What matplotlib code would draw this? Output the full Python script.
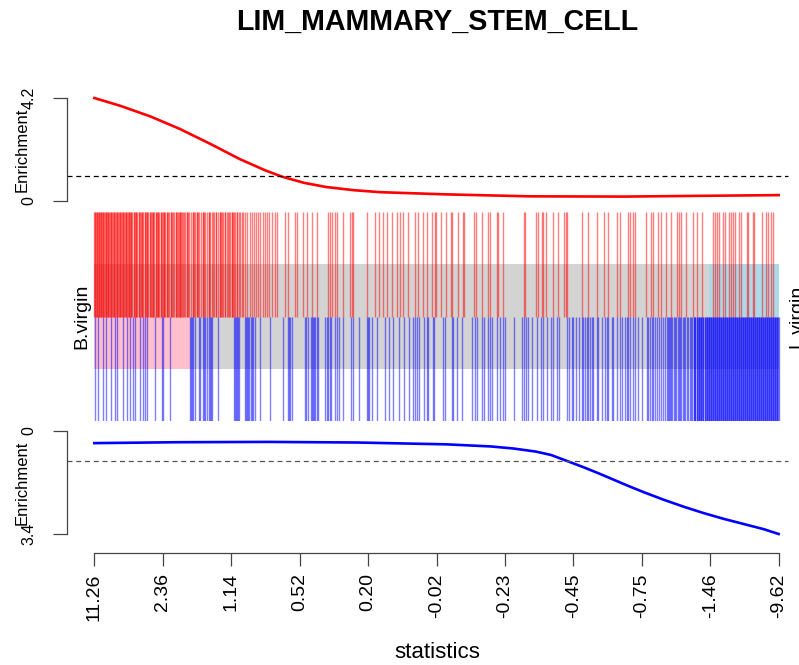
import numpy as np
import matplotlib
matplotlib.use("Agg")
import matplotlib.pyplot as plt
from matplotlib.patches import Rectangle

plt.rcParams['font.family'] = ['Liberation Sans', 'DejaVu Sans']

title = "LIM_MAMMARY_STEM_CELL"
n_rank = 685
tick_labels = ["11.26", "2.36", "1.14", "0.52", "0.20", "-0.02",
               "-0.23", "-0.45", "-0.75", "-1.46", "-9.62"]
up_label = "B.virgin"
down_label = "L.virgin"

# ranks of the genes of each set (0 = largest statistic)
red_ranks = [0, 0.5, 1, 2, 2.5, 3, 4, 4.5, 5, 6, 6.5, 7, 8, 8.5, 9, 10, 11, 11.5, 12, 13,
             13.5, 14, 15, 16, 16.5, 17, 18, 19, 19.5, 20, 21, 22, 22.5, 23, 24, 25, 25.5,
             26, 27, 28, 28.5, 29, 30, 31, 31.5, 32, 33,
             34, 34.5, 35, 36, 36.5, 37, 38, 39.5, 40, 41, 41.5, 42, 43, 44.5, 45, 46, 47,
             47.5, 48, 49, 50.5, 51, 52, 52.5, 53, 54, 55.5, 56, 57, 58, 58.5, 59, 60,
             61.5, 62, 63, 63.5, 64, 65, 66.5, 67, 68, 69, 69.5, 70, 71, 72.5, 73, 74, 75,
             76.5, 77, 78, 79, 80, 81.5, 82, 83, 84, 85, 85.5, 86, 87, 88, 89, 90, 91,
             92.5, 93, 94, 95, 97, 98.5, 99, 100, 101, 102.5, 103, 104, 105, 107, 108.5,
             109, 110, 111, 113, 114.5, 115, 116, 118, 119, 120, 121.5, 122, 124, 125.5,
             126, 127, 128, 129, 130.5, 131, 133, 134, 135, 136, 137.5, 138, 139, 140, 141,
             142.5, 143, 145, 146, 148, 149, 151, 153, 156, 158, 160, 162, 164, 166, 169,
             171, 173, 175, 178, 181, 183, 191, 194, 201, 203, 209, 213, 218, 223, 234,
             236, 238, 241, 243, 249, 256, 258, 259, 273, 281, 285, 289, 293, 298, 303,
             306, 309, 314, 321, 324, 329, 333, 338, 341, 342, 347, 352, 357, 358, 364,
             369, 370, 380, 382, 388, 394, 396, 403, 404, 409, 430, 431, 442, 444, 448,
             449, 452, 459, 464, 470, 472, 473, 488, 494, 503, 510, 514, 523, 526, 534,
             536, 539, 541, 552, 557, 559, 564, 567, 572, 577, 583, 585, 587, 592, 599,
             603, 608, 619, 621, 623, 625, 629, 631, 635, 637, 639, 641, 645, 647, 653,
             654, 659, 660, 668, 672, 674, 677, 679]

blue_ranks = [1, 4, 9, 12, 17, 21, 23, 29, 33, 36, 39, 41, 46, 49, 51, 53, 61, 68, 69, 76,
              96, 97, 98, 99, 101, 105, 106, 109, 110, 111, 113, 115, 116, 117, 118, 124,
              140, 141, 142, 143, 144, 145, 151, 152, 153, 154, 155, 157, 158, 159, 161,
              166, 176, 189, 194, 195, 196, 198, 211, 212, 214, 217, 218, 219, 220, 221,
              223, 224, 231, 233, 234, 236, 237, 241, 243, 245, 249, 257, 259, 265, 273,
              274, 275, 278, 283, 291, 295, 299, 305, 310, 315, 319, 321, 323, 325, 330,
              333, 334, 339, 340, 349, 351, 358, 359, 363, 368, 378, 381, 383, 388, 390,
              394, 396, 398, 403, 406, 409, 411, 420, 428, 430, 432, 434, 438, 443, 447,
              449, 453, 457, 459, 463, 465, 473, 475, 478, 479, 482, 485, 488, 489, 491,
              493, 494, 496, 498, 499, 503, 504, 508, 511, 513, 514, 518, 519, 523, 526,
              528, 531, 533, 534, 536, 539, 541, 544, 548, 553, 554, 556, 558, 559, 561,
              563, 565, 567, 569, 571, 573, 574, 575, 576, 577, 578, 580, 581, 582, 584,
              585, 586, 587, 589, 590, 591, 593, 594, 596, 597, 598,
              600, 600.5, 601, 601.5, 603, 603.5, 604, 605, 605.5, 606, 607, 607.5, 608,
              609, 609.5, 611, 611.5, 612, 613, 613.5, 614, 615, 615.5, 616, 617, 617.5,
              618, 619, 619.5, 620, 621, 621.5, 622, 623, 623.5, 624, 625, 625.5, 626, 627,
              627.5, 628, 629, 629.5, 630, 631, 631.5, 632, 633, 633.5, 634, 635, 635.5,
              636, 637, 637.5, 638, 639, 639.5, 640, 641, 641.5, 642, 643, 643.5, 644, 645,
              645.5, 646, 647, 647.5, 648, 649, 649.5, 650, 651, 651.5, 652, 653, 653.5,
              654, 655, 655.5, 656, 657, 657.5, 658, 659, 659.5, 660, 661, 661.5, 662, 663,
              663.5, 664, 665, 665.5, 666, 667, 667.5, 668, 669, 669.5, 670, 671, 671.5,
              672, 673, 673.5, 674, 675, 675.5, 676, 677, 677.5, 678, 679, 679.5, 680, 681,
              681.5, 682, 683, 683.5, 684, 685]

# running enrichment curves
red_curve_rank = [0, 26, 56, 86, 116, 146, 171, 188, 210, 232, 260, 286, 352, 436, 531,
                  606, 685]
red_curve_enr = [4.2, 3.88, 3.45, 2.93, 2.33, 1.70, 1.25, 0.99, 0.74, 0.57, 0.44, 0.36,
                 0.27, 0.19, 0.18, 0.21, 0.24]
blue_curve_rank = [0, 85, 174, 263, 352, 397, 420, 442, 457, 474, 490, 505, 520, 535,
                   550, 570, 590, 610, 630, 650, 670, 685]
blue_curve_enr = [0.40, 0.37, 0.36, 0.38, 0.44, 0.51, 0.58, 0.68, 0.79, 1.00, 1.20, 1.40,
                  1.61, 1.82, 2.02, 2.27, 2.50, 2.71, 2.90, 3.07, 3.24, 3.40]

up_max, down_max = 4.2, 3.4
pink_end = 96
lightblue_start = 615

W, H = 799, 665
fig = plt.figure(figsize=(W / 100, H / 100), dpi=100)


def box(x0, y0, x1, y1):
    return [x0 / W, 1 - y1 / H, (x1 - x0) / W, (y1 - y0) / H]


pad = 0.04 * n_rank
xlim = (-pad, n_rank + pad)
axcol = "#444444"

# barcode panel
axb = fig.add_axes(box(67, 212, 806, 421))
axb.set_xlim(xlim)
axb.set_ylim(0, 2)
axb.axis("off")
axb.add_patch(Rectangle((-0.5, 0.5), n_rank + 1, 1, color="lightgray", lw=0))
axb.add_patch(Rectangle((-0.5, 0.5), pink_end + 0.5, 0.5, color="pink", lw=0))
axb.add_patch(Rectangle((lightblue_start, 1), n_rank + 0.5 - lightblue_start, 0.5,
                        color="lightblue", lw=0))
axb.vlines(red_ranks, 1, 2, color=(1, 0, 0, 0.5), lw=1.0)
axb.vlines(blue_ranks, 0, 1, color=(0, 0, 1, 0.5), lw=1.0)

# top enrichment
axt = fig.add_axes(box(67, 98, 806, 201))
axt.set_xlim(xlim)
axt.set_ylim(0, up_max)
axt.plot(red_curve_rank, red_curve_enr, color="red", lw=1.9, clip_on=False)
axt.axhline(1, xmax=0.975, color="black", lw=0.9, ls=(0, (4, 3)), clip_on=False)

# bottom enrichment
axd = fig.add_axes(box(67, 431, 806, 534))
axd.set_xlim(xlim)
axd.set_ylim(down_max, 0)
axd.plot(blue_curve_rank, blue_curve_enr, color="blue", lw=1.9, clip_on=False)
axd.axhline(1, xmax=0.975, color="#555555", lw=0.9, ls=(0, (4, 3)), clip_on=False)

for ax, lo, hi, top in [(axt, "0", "4.2", up_max), (axd, "0", "3.4", down_max)]:
    for s in ["top", "right", "bottom"]:
        ax.spines[s].set_visible(False)
    ax.spines["left"].set_color(axcol)
    ax.spines["left"].set_linewidth(0.9)
    ax.set_xticks([])
    ax.set_yticks([0, top])
    ax.set_yticklabels([lo, hi], rotation=90, va="center", fontsize=11.5)
    ax.tick_params(axis="y", length=10, width=0.9, color=axcol, pad=12)
    ax.set_ylabel("Enrichment", fontsize=12, labelpad=-6)
    ax.patch.set_alpha(0)

# x axis
axx = fig.add_axes(box(67, 420, 806, 553))
axx.set_xlim(xlim)
axx.patch.set_alpha(0)
for s in ["top", "right", "left"]:
    axx.spines[s].set_visible(False)
axx.spines["bottom"].set_bounds(0, n_rank)
axx.spines["bottom"].set_color(axcol)
axx.spines["bottom"].set_linewidth(0.9)
axx.set_yticks([])
tick_pos = np.linspace(0, n_rank, len(tick_labels))
axx.set_xticks(tick_pos)
axx.set_xticklabels(tick_labels, rotation=90, fontsize=14)
axx.tick_params(axis="x", length=9.5, width=0.9, color=axcol, pad=5)

fig.text(437 / W, 1 - 652 / H, "statistics", ha="center", va="center", fontsize=16)
fig.text(437 / W, 1 - 22 / H, title, ha="center", va="center",
         fontsize=20.6, fontweight="bold")
fig.text(82 / W, 1 - 316 / H, up_label, rotation=90, ha="center", va="center",
         fontsize=14)
fig.text(797 / W, 1 - 316 / H, down_label, rotation=90, ha="center", va="center",
         fontsize=14)

fig.savefig("out.png", dpi=100)
